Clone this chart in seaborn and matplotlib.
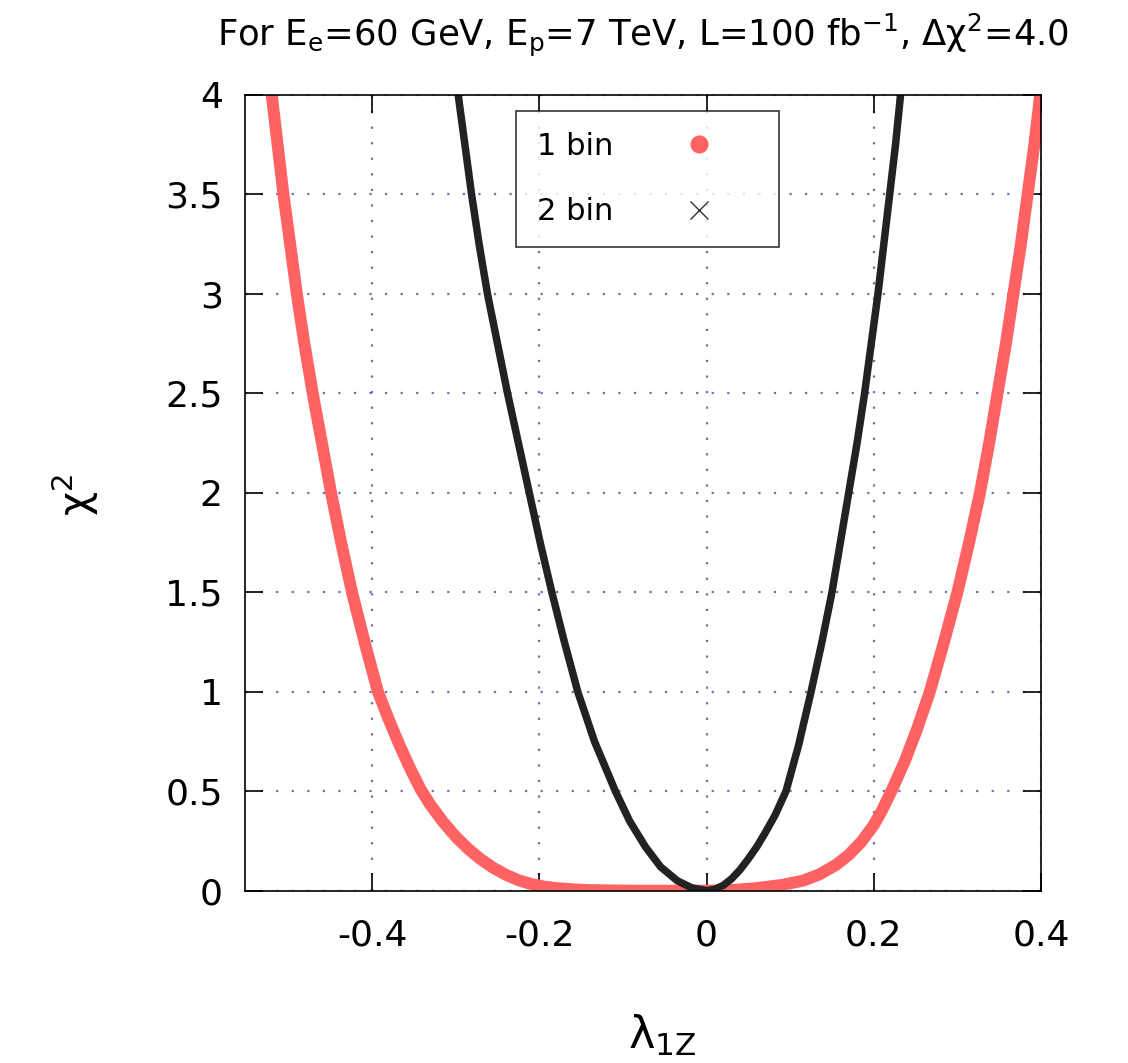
import matplotlib
matplotlib.use("Agg")
import matplotlib.pyplot as plt
from matplotlib.lines import Line2D
import pandas as pd
import seaborn as sns

# chi^2 scan versus lambda_1Z, one-bin analysis
lam_1bin = [-0.520, -0.513, -0.506, -0.498, -0.490, -0.481, -0.471, -0.460,
            -0.449, -0.437, -0.424, -0.409, -0.393, -0.380, -0.367, -0.354,
            -0.342, -0.330, -0.315, -0.300, -0.285, -0.270, -0.255, -0.240,
            -0.225, -0.210, -0.195, -0.180, -0.160, -0.140, -0.110, -0.080,
            -0.040, 0.000, 0.030, 0.060, 0.090, 0.115, 0.135, 0.155, 0.170,
            0.185, 0.200, 0.210, 0.221, 0.237, 0.252, 0.267, 0.284, 0.300,
            0.314, 0.327, 0.338, 0.348, 0.358, 0.367, 0.376, 0.384, 0.392,
            0.399]
chi2_1bin = [4.0, 3.75, 3.5, 3.25, 3.0, 2.75, 2.5, 2.25,
             2.0, 1.75, 1.5, 1.25, 1.0, 0.86, 0.73, 0.61,
             0.51, 0.43, 0.345, 0.272, 0.21, 0.158, 0.115, 0.080,
             0.053, 0.034, 0.021, 0.013, 0.007, 0.003, 0.001, 0.0,
             0.0, 0.0, 0.003, 0.013, 0.029, 0.05, 0.082, 0.13, 0.18,
             0.245, 0.33, 0.405, 0.5, 0.65, 0.815, 1.0, 1.25, 1.5,
             1.75, 2.0, 2.25, 2.5, 2.75, 3.0, 3.25, 3.5, 3.75,
             4.0]

# chi^2 scan versus lambda_1Z, two-bin analysis
lam_2bin = [-0.297, -0.289, -0.281, -0.272, -0.262, -0.250, -0.238, -0.225,
            -0.212, -0.199, -0.185, -0.170, -0.154, -0.134, -0.109, -0.092,
            -0.073, -0.055, -0.035, -0.018, 0.000, 0.010, 0.020, 0.030,
            0.040, 0.050, 0.060, 0.070, 0.082, 0.095, 0.110, 0.125, 0.138,
            0.150, 0.160, 0.170, 0.180, 0.189, 0.197, 0.205, 0.212, 0.219,
            0.226, 0.232]
chi2_2bin = [4.0, 3.75, 3.5, 3.25, 3.0, 2.75, 2.5, 2.25,
             2.0, 1.75, 1.5, 1.25, 1.0, 0.75, 0.5, 0.35,
             0.22, 0.12, 0.05, 0.015, 0.0, 0.007, 0.027, 0.06,
             0.105, 0.16, 0.22, 0.29, 0.38, 0.5, 0.73, 1.0, 1.25,
             1.5, 1.75, 2.0, 2.25, 2.5, 2.75, 3.0, 3.25, 3.5,
             3.75, 4.0]

x_ticks = [-0.4, -0.2, 0.0, 0.2, 0.4]
x_tick_labels = ["-0.4", "-0.2", "0", "0.2", "0.4"]
y_ticks = [0, 0.5, 1, 1.5, 2, 2.5, 3, 3.5, 4]
y_tick_labels = ["0", "0.5", "1", "1.5", "2", "2.5", "3", "3.5", "4"]
series_labels = ["1 bin", "2 bin"]

RED = "#ff6262"
BLACK = "#222222"

sns.set_style("ticks")
plt.rcParams["font.family"] = ["DejaVu Sans"]
plt.rcParams["axes.unicode_minus"] = False
plt.rcParams["mathtext.default"] = "regular"
plt.rcParams["text.color"] = "black"
plt.rcParams["axes.labelcolor"] = "black"
plt.rcParams["xtick.color"] = "black"
plt.rcParams["ytick.color"] = "black"

df1 = pd.DataFrame({"lam": lam_1bin, "chi2": chi2_1bin})
df2 = pd.DataFrame({"lam": lam_2bin, "chi2": chi2_2bin})

fig = plt.figure(figsize=(11.28, 10.63), dpi=100)
ax = fig.add_axes([245 / 1128, 1 - 890.7 / 1063, 796 / 1128, 795.7 / 1063])

sns.lineplot(data=df1, x="lam", y="chi2", sort=False, estimator=None,
             color=RED, linewidth=8.6, solid_capstyle="round",
             solid_joinstyle="round", ax=ax, zorder=3, legend=False)
sns.lineplot(data=df2, x="lam", y="chi2", sort=False, estimator=None,
             color=BLACK, linewidth=5.4, solid_capstyle="round",
             solid_joinstyle="round", ax=ax, zorder=4, legend=False)

ax.set_xlim(-0.552, 0.4)
ax.set_ylim(0, 4)
ax.set_xticks(x_ticks)
ax.set_xticklabels(x_tick_labels)
ax.set_yticks(y_ticks)
ax.set_yticklabels(y_tick_labels)
ax.set_xlabel("")
ax.set_ylabel("")

ax.grid(True, color="#3c3ca0", linestyle=(0, (1, 6)), linewidth=1.6, alpha=0.75)
ax.set_axisbelow(True)
for s in ax.spines.values():
    s.set_color("black")
    s.set_linewidth(1.2)
    s.set_visible(True)
    s.set_zorder(5)

ax.tick_params(axis="both", direction="in", length=13, width=1.2,
               top=True, right=True, labelsize=26, colors="black")
ax.tick_params(axis="x", pad=20)
ax.tick_params(axis="y", pad=16)

handles = [
    Line2D([], [], linestyle="none", marker="o", markersize=12,
           color=RED, markeredgecolor=RED),
    Line2D([], [], linestyle="none", marker="x", markersize=13,
           markeredgewidth=1.0, color="#333333"),
]
leg = ax.legend(handles, series_labels, loc="upper left",
                bbox_to_anchor=(0.3405, 0.980), borderaxespad=0,
                markerfirst=False, fontsize=22, frameon=True, fancybox=False,
                edgecolor="black", handlelength=3.9, handletextpad=0.85,
                labelspacing=1.2, borderpad=0.68)
leg.get_frame().set_linewidth(1.2)
leg.set_zorder(6)

fig.text(643 / 1128, 1 - 35 / 1063,
         r"For E$_{e}$=60 GeV, E$_{p}$=7 TeV, L=100 fb$^{-1}$, Δχ$^{2}$=4.0",
         ha="center", va="center", fontsize=25.5)
fig.text(75 / 1128, 1 - 495 / 1063, r"χ$^{2}$", rotation=90,
         ha="center", va="center", fontsize=30)
fig.text(662 / 1128, 1 - 1035 / 1063, r"λ$_{1Z}$",
         ha="center", va="center", fontsize=32)

fig.savefig("out.png", dpi=100)
